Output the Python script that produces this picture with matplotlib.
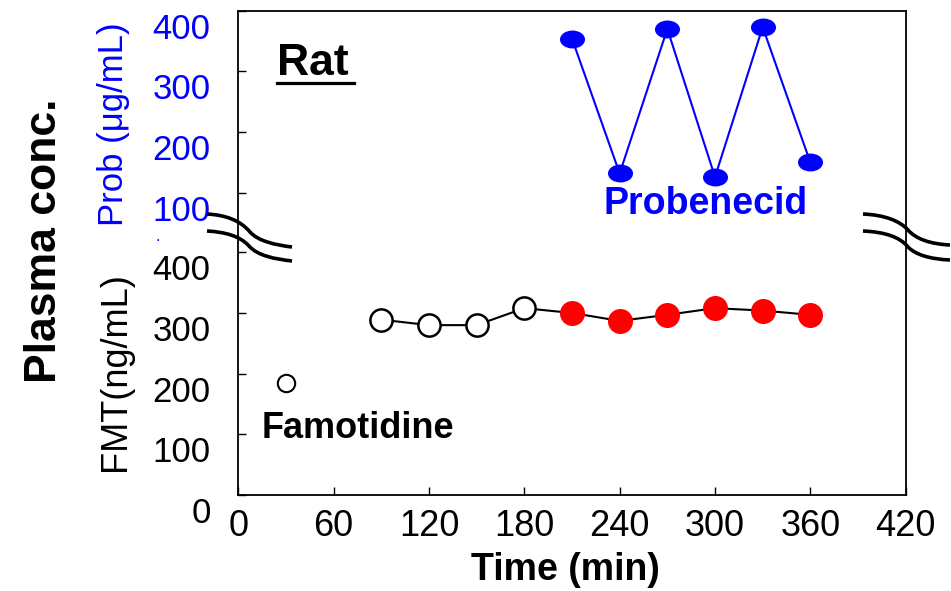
import matplotlib
matplotlib.use('Agg')
import matplotlib.pyplot as plt
import matplotlib.transforms as mtransforms
from matplotlib.path import Path
from matplotlib.patches import PathPatch
from matplotlib.lines import Line2D
import numpy as np

plt.rcParams['font.family'] = ['Liberation Sans', 'DejaVu Sans']

# famotidine plasma conc. (ng/mL)
fmt_first_t = [30]
fmt_first = [185]
fmt_ctrl_t = [90, 120, 150, 180]
fmt_ctrl = [289, 280, 280, 308]
fmt_prob_t = [210, 240, 270, 300, 330, 360]
fmt_prob = [300, 287, 297, 308, 304, 297]

# probenecid plasma conc. (ug/mL)
prob_t = [210, 240, 270, 300, 330, 360]
prob = [354, 132, 370, 126, 373, 150]

x_ticks = [0, 60, 120, 180, 240, 300, 360, 420]
upper_ticks = [100, 200, 300, 400]
lower_ticks = [0, 100, 200, 300, 400]

W, H = 951, 591
fig = plt.figure(figsize=(W / 100, H / 100), dpi=100)

def fx(x):
    return x / W

def fy(y):
    return 1 - y / H

left, right = 238.3, 905.7
top, brk, bottom = 10.7, 222, 495
ax_up = fig.add_axes([fx(left), fy(brk), fx(right) - fx(left), fy(top) - fy(brk)])
ax_lo = fig.add_axes([fx(left), fy(bottom), fx(right) - fx(left), fy(brk) - fy(bottom)])

# probenecid
ell = Path(Path.unit_circle().vertices * [1, 0.7], Path.unit_circle().codes)
ax_up.plot(prob_t, prob, color='#0000FF', lw=1.5, marker=ell, ms=17,
           mfc='#0000FF', mec='#0000FF', clip_on=False)
ax_up.set_ylim(52, 400)
ax_up.set_xlim(0, 420)
ax_up.set_yticks(upper_ticks)
ax_up.set_xticks([])
ax_up.spines['bottom'].set_visible(False)

# famotidine
ax_lo.plot(fmt_ctrl_t + fmt_prob_t, fmt_ctrl + fmt_prob, color='black', lw=1.5, zorder=2)
ax_lo.plot(fmt_first_t, fmt_first, 'o', ms=12.5, mfc='white', mec='black', mew=1.5, zorder=3)
ax_lo.plot(fmt_ctrl_t, fmt_ctrl, 'o', ms=16, mfc='white', mec='black', mew=1.8, zorder=3)
ax_lo.plot(fmt_prob_t, fmt_prob, 'o', ms=17, mfc='#FF0000', mec='#FF0000', zorder=3)
ax_lo.set_ylim(0, 450)
ax_lo.set_xlim(0, 420)
ax_lo.set_yticks(lower_ticks)
ax_lo.set_xticks(x_ticks)
ax_lo.spines['top'].set_visible(False)

for ax in (ax_up, ax_lo):
    for s in ax.spines.values():
        s.set_linewidth(1.3)
    ax.tick_params(axis='y', direction='in', length=6, width=1, pad=20, labelsize=25)
    ax.tick_params(axis='x', direction='in', length=6, width=1, pad=10, labelsize=26)

ax_up.tick_params(axis='y', labelcolor='#0000FF')

# tick labels sit a bit below their ticks in the original
shift = mtransforms.ScaledTranslation(0, -0.15, fig.dpi_scale_trans)
for ax in (ax_up, ax_lo):
    for tick in ax.yaxis.get_major_ticks():
        tick.label1.set_transform(tick.label1.get_transform() + shift)

# axis titles
fig.text(fx(114), fy(124), 'Prob (\u03bcg/mL)', rotation=90, ha='center', va='center',
         fontsize=25, color='#0000FF')
fig.text(fx(115), fy(372), 'FMT(ng/mL)', rotation=90, ha='center', va='center',
         fontsize=26, color='black')
fig.text(fx(45), fy(241), 'Plasma conc.', rotation=90, ha='center', va='center',
         fontsize=32, fontweight='bold')
fig.text(fx(565), fy(570), 'Time (min)', ha='center', va='center',
         fontsize=27, fontweight='bold')
fig.text(fx(158), fy(241), '.', ha='center', va='baseline', fontsize=12, color='#0000FF')

# annotations
fig.text(fx(277), fy(75), 'Rat', ha='left', va='baseline', fontsize=32, fontweight='bold')
fig.add_artist(Line2D([fx(277), fx(354)], [fy(83.3), fy(83.3)], color='black', lw=2.3,
                      transform=fig.transFigure))
fig.text(fx(262), fy(428), 'Famotidine', ha='left', va='center', fontsize=26, fontweight='bold')
fig.text(fx(706), fy(204), 'Probenecid', ha='center', va='center', fontsize=27,
         fontweight='bold', color='#0000FF')

# axis break marks
def wave(pts):
    verts = [(fx(x), fy(y)) for x, y in pts]
    codes = [Path.MOVETO] + [Path.CURVE4] * 6
    fig.add_artist(PathPatch(Path(verts, codes), fill=False, lw=2.6, color='black',
                             transform=fig.transFigure, zorder=5))

wave([(207, 214), (225, 215), (240, 220), (250, 232), (258, 241), (275, 245), (292, 247)])
wave([(207, 231), (225, 232), (240, 236), (249, 246), (258, 256), (275, 259), (292, 261)])
wave([(863, 214), (885, 215), (900, 221), (908, 230), (916, 239), (930, 244), (950, 245)])
wave([(863, 231), (885, 232), (900, 237), (908, 247), (916, 255), (930, 259), (950, 260)])

fig.savefig('out.png', dpi=100)
